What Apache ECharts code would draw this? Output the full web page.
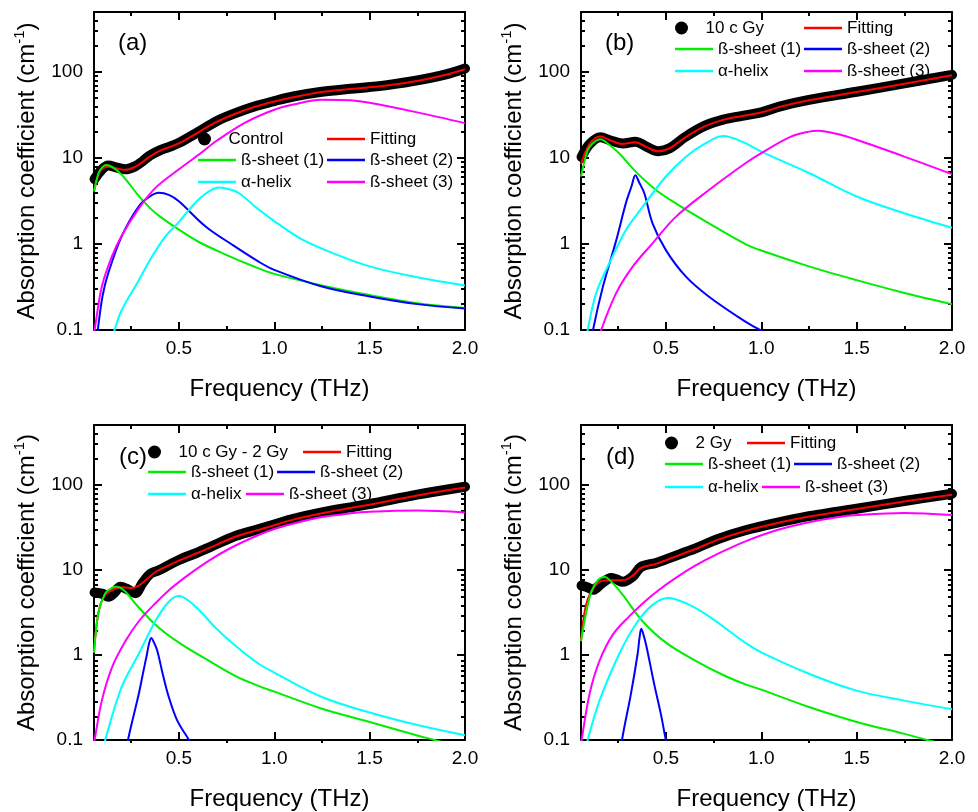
<!DOCTYPE html>
<html>
<head>
<meta charset="utf-8">
<script src="https://cdn.jsdelivr.net/npm/echarts@6/dist/echarts.min.js"></script>
<style>
  html, body { margin: 0; padding: 0; background: #fff; }
  #chart { width: 978px; height: 812px; }
</style>
</head>
<body>
<div id="chart"></div>
<script>
// [frequency (THz), absorption coefficient (cm-1)]

// (a) Control
const ctrlData = [[0.058,5.7],[0.1,7.5],[0.13,8.2],[0.17,7.8],[0.22,7.4],[0.27,8.0],[0.31,9.2],[0.35,10.8],[0.4,12.3],[0.45,13.5],[0.5,15],[0.6,20],[0.7,27],[0.8,33.5],[0.9,40],[1.0,46],[1.1,52],[1.25,59],[1.4,64],[1.5,67],[1.6,71],[1.75,80],[1.9,94],[2.0,110]];
const ctrlFit = [[0.055,4.1],[0.08,6.5],[0.1,7.5],[0.13,7.9],[0.17,7.6],[0.22,7.3],[0.27,7.9],[0.31,9.0],[0.35,10.5],[0.4,12.1],[0.45,13.4],[0.5,14.8],[0.6,19.8],[0.7,26.5],[0.8,33],[0.9,39.5],[1.0,45.5],[1.1,51],[1.25,58.5],[1.4,63.5],[1.5,66.5],[1.6,70.5],[1.75,79],[1.9,93],[2.0,108]];
const ctrlB1 = [[0.055,4.1],[0.08,6.8],[0.1,7.9],[0.12,8.3],[0.15,7.9],[0.2,6.4],[0.25,4.7],[0.29,3.6],[0.35,2.6],[0.4,2.1],[0.5,1.47],[0.6,1.07],[0.73,0.78],[0.9,0.54],[1.0,0.45],[1.25,0.33],[1.5,0.255],[1.75,0.205],[2.0,0.18]];
const ctrlB2 = [[0.068,0.07],[0.075,0.1],[0.1,0.25],[0.13,0.46],[0.2,1.23],[0.29,2.75],[0.35,3.6],[0.395,3.94],[0.45,3.7],[0.5,3.14],[0.64,1.6],[0.78,0.98],[0.92,0.62],[1.0,0.5],[1.25,0.32],[1.5,0.245],[1.75,0.2],[2.0,0.178]];
const ctrlHelix = [[0.155,0.08],[0.163,0.1],[0.2,0.17],[0.29,0.38],[0.36,0.72],[0.43,1.23],[0.5,1.8],[0.553,2.5],[0.623,3.6],[0.71,4.55],[0.77,4.3],[0.816,3.9],[0.92,2.5],[1.0,1.85],[1.14,1.15],[1.31,0.78],[1.5,0.55],[1.75,0.41],[2.0,0.33]];
const ctrlB3 = [[0.05,0.08],[0.058,0.1],[0.096,0.32],[0.149,0.72],[0.2,1.25],[0.29,2.6],[0.377,4.5],[0.5,7.4],[0.605,11],[0.7,16],[0.85,26],[1.0,36.5],[1.1,42],[1.25,47.8],[1.4,47],[1.5,44],[1.75,34],[2.0,25.5]];

// (b) 10 c Gy
const gy10Data = [[0.058,10.3],[0.1,14.5],[0.156,17.5],[0.21,16],[0.274,14.8],[0.34,15.5],[0.4,13.5],[0.46,12],[0.52,13],[0.6,17.5],[0.7,23.5],[0.8,28],[0.9,31],[1.0,34],[1.1,40],[1.25,47.5],[1.5,59],[1.75,74],[2.0,93]];
const gy10Fit = [[0.055,8.5],[0.1,14.5],[0.156,17.8],[0.21,16],[0.27,14.6],[0.34,15.3],[0.4,13.4],[0.46,12],[0.52,13],[0.6,17.3],[0.7,23.2],[0.8,27.8],[0.9,30.8],[1.0,33.8],[1.1,39.5],[1.25,47],[1.5,58.5],[1.75,73],[2.0,92]];
const gy10B1 = [[0.055,6.1],[0.08,10.5],[0.1,13.5],[0.156,16.5],[0.2,14.5],[0.256,11.3],[0.343,6.9],[0.448,4.25],[0.552,2.97],[0.726,1.74],[0.917,1.0],[1.0,0.84],[1.25,0.55],[1.5,0.38],[1.75,0.27],[2.0,0.2]];
const gy10B2 = [[0.11,0.07],[0.118,0.1],[0.17,0.32],[0.24,1.11],[0.29,2.97],[0.32,4.7],[0.34,6.3],[0.36,5.2],[0.387,3.9],[0.43,1.74],[0.5,0.85],[0.604,0.42],[0.726,0.244],[0.917,0.125],[1.0,0.098],[1.05,0.085]];
const gy10Helix = [[0.085,0.08],[0.09,0.1],[0.135,0.27],[0.204,0.6],[0.29,1.45],[0.378,2.7],[0.5,6.1],[0.604,10.3],[0.7,14.5],[0.8,18],[0.9,15.5],[1.0,11.9],[1.25,6.7],[1.5,3.57],[1.75,2.28],[2.0,1.55]];
const gy10B3 = [[0.155,0.08],[0.161,0.1],[0.24,0.27],[0.326,0.545],[0.43,1.02],[0.552,2.07],[0.726,4.25],[0.917,8.7],[1.0,11.4],[1.15,17.5],[1.25,20.3],[1.3,20.8],[1.4,19],[1.5,16.3],[1.75,10.4],[2.0,6.5]];

// (c) 10 c Gy - 2 Gy
const diffData = [[0.058,5.4],[0.1,5.2],[0.131,4.8],[0.16,5.3],[0.193,6.3],[0.23,5.9],[0.27,5.3],[0.31,7],[0.351,9.0],[0.395,9.85],[0.45,11.4],[0.5,13],[0.6,16],[0.66,18.3],[0.8,25],[0.92,30],[1.0,34],[1.1,39.5],[1.25,47],[1.4,54],[1.5,59],[1.75,76],[2.0,94]];
const diffFit = [[0.055,1.06],[0.079,3.2],[0.114,5.05],[0.167,6.0],[0.21,6.2],[0.254,6.1],[0.29,6.5],[0.325,7.5],[0.377,9.4],[0.45,11.3],[0.5,12.8],[0.6,15.8],[0.66,18],[0.8,24.5],[0.92,29.4],[1.0,33.3],[1.1,38.7],[1.25,46],[1.4,53],[1.5,58],[1.75,74.5],[2.0,92]];
const diffB1 = [[0.055,1.06],[0.079,3.2],[0.114,5.3],[0.149,6.1],[0.175,6.3],[0.22,5.5],[0.27,4.04],[0.377,2.26],[0.5,1.39],[0.658,0.85],[0.8,0.56],[0.92,0.43],[1.0,0.37],[1.25,0.233],[1.5,0.163],[1.75,0.113],[1.84,0.1],[2.0,0.08]];
const diffB2 = [[0.225,0.07],[0.233,0.1],[0.29,0.35],[0.31,0.58],[0.333,1.03],[0.345,1.4],[0.356,1.58],[0.366,1.45],[0.386,1.13],[0.415,0.6],[0.447,0.32],[0.491,0.17],[0.553,0.1],[0.57,0.085]];
const diffHelix = [[0.108,0.08],[0.114,0.1],[0.2,0.42],[0.29,1.03],[0.377,2.5],[0.447,4.2],[0.5,4.9],[0.588,3.66],[0.693,2.07],[0.798,1.27],[0.92,0.78],[1.0,0.62],[1.25,0.32],[1.5,0.21],[1.75,0.15],[2.0,0.114]];
const diffB3 = [[0.05,0.08],[0.058,0.1],[0.096,0.29],[0.149,0.71],[0.22,1.45],[0.29,2.48],[0.377,4.04],[0.458,6.0],[0.55,8.7],[0.658,12.8],[0.774,18.1],[0.92,25.7],[1.0,30.1],[1.09,34.4],[1.25,41.5],[1.4,46],[1.5,48],[1.75,49.5],[2.0,47]];

// (d) 2 Gy
const gy2Data = [[0.058,6.5],[0.09,6.2],[0.118,5.8],[0.16,6.8],[0.213,8.0],[0.24,7.7],[0.274,7.2],[0.326,8.3],[0.37,10.8],[0.448,12],[0.5,13.2],[0.6,16],[0.656,17.8],[0.77,22.8],[0.917,29],[1.08,35.5],[1.25,42.5],[1.4,48],[1.5,52],[1.75,64],[2.0,78]];
const gy2Fit = [[0.055,1.45],[0.075,3.3],[0.1,5.05],[0.152,7.2],[0.2,7.5],[0.274,7.5],[0.326,8.5],[0.37,10.5],[0.448,11.7],[0.5,12.9],[0.6,15.7],[0.656,17.5],[0.77,22.4],[0.917,28.5],[1.08,35],[1.25,42],[1.4,47.5],[1.5,51.5],[1.75,63],[2.0,76]];
const gy2B1 = [[0.055,1.45],[0.083,3.2],[0.109,5.5],[0.143,7.5],[0.178,8.2],[0.22,7.0],[0.274,5.05],[0.378,2.48],[0.5,1.39],[0.656,0.85],[0.8,0.58],[0.917,0.45],[1.0,0.39],[1.25,0.244],[1.5,0.163],[1.75,0.118],[1.87,0.1],[2.0,0.085]];
const gy2B2 = [[0.265,0.07],[0.27,0.1],[0.317,0.35],[0.352,1.03],[0.362,1.6],[0.371,2.03],[0.38,1.8],[0.396,1.32],[0.439,0.45],[0.474,0.2],[0.5,0.1],[0.51,0.085]];
const gy2Helix = [[0.085,0.08],[0.09,0.1],[0.152,0.29],[0.256,1.03],[0.343,2.3],[0.43,3.86],[0.51,4.66],[0.604,4.04],[0.726,2.83],[0.917,1.38],[1.0,1.07],[1.25,0.6],[1.5,0.38],[1.75,0.29],[2.0,0.23]];
const gy2B3 = [[0.05,0.08],[0.058,0.1],[0.1,0.35],[0.152,0.85],[0.222,1.73],[0.309,2.85],[0.396,4.35],[0.458,5.66],[0.55,7.95],[0.656,11.2],[0.771,15.3],[0.917,21.5],[1.084,29.2],[1.25,36.1],[1.397,41.3],[1.5,43.8],[1.75,46.4],[2.0,43.8]];

// tick values
const xMajorTicks = [0.5, 1.0, 1.5, 2.0];
const xMinorTicks = [0.25, 0.75, 1.25, 1.75];
const yMajorTicks = [0.1, 1, 10, 100];
const yMinorTicks = [0.2, 0.3, 0.4, 0.5, 0.6, 0.7, 0.8, 0.9, 2, 3, 4, 5, 6, 7, 8, 9, 20, 30, 40, 50, 60, 70, 80, 90, 200, 300, 400];

const componentNames = ['Fitting', 'ß-sheet (1)', 'ß-sheet (2)', 'α-helix', 'ß-sheet (3)'];
const componentColors = ['#ff0000', '#00ee00', '#0000ff', '#00ffff', '#ff00ff'];

const FONT = '"Liberation Sans", Arial, sans-serif';
const X_MIN = 0.055, X_MAX = 2.0, Y_MIN = 0.1, Y_MAX = 500;
const GRID_W = 371, GRID_H = 318;

const panels = [
  { tag: '(a)', tagPos: [118, 31], sample: 'Control', left: 94, top: 12,
    curves: [ctrlData, ctrlFit, ctrlB1, ctrlB2, ctrlHelix, ctrlB3],
    legendPos: [[198, 139], [327, 139], [198, 160], [327, 160], [198, 182], [327, 182]] },
  { tag: '(b)', tagPos: [605, 31], sample: '10 c Gy', left: 581, top: 12,
    curves: [gy10Data, gy10Fit, gy10B1, gy10B2, gy10Helix, gy10B3],
    legendPos: [[675, 28], [804, 28], [675, 49], [804, 49], [675, 71], [804, 71]] },
  { tag: '(c)', tagPos: [119, 445], sample: '10 c Gy - 2 Gy', left: 94, top: 425,
    curves: [diffData, diffFit, diffB1, diffB2, diffHelix, diffB3],
    legendPos: [[148, 452], [303, 452], [148, 472], [277, 472], [148, 494], [246, 494]] },
  { tag: '(d)', tagPos: [606, 445], sample: '2 Gy', left: 581, top: 425,
    curves: [gy2Data, gy2Fit, gy2B1, gy2B2, gy2Helix, gy2B3],
    legendPos: [[665, 443], [747, 443], [665, 464], [794, 464], [665, 487], [762, 487]] },
];

const grid = [], xAxis = [], yAxis = [], series = [], legend = [], title = [];

function tickStyle(len) {
  return { inside: true, length: len, lineStyle: { color: '#000', width: 2 } };
}

function makeX(gridIndex, position, ticks, len, main) {
  return {
    type: 'value', gridIndex: gridIndex, position: position, min: X_MIN, max: X_MAX,
    axisLine: { show: main, onZero: false, lineStyle: { color: '#000', width: 2 } },
    axisTick: Object.assign(tickStyle(len), { customValues: ticks }),
    axisLabel: { show: false },
    splitLine: { show: false },
  };
}

function makeY(gridIndex, position, ticks, len, main) {
  return {
    type: 'log', logBase: 10, gridIndex: gridIndex, position: position, min: Y_MIN, max: Y_MAX,
    axisLine: { show: main, onZero: false, lineStyle: { color: '#000', width: 2 } },
    axisTick: Object.assign(tickStyle(len), { customValues: ticks }),
    axisLabel: { show: false },
    splitLine: { show: false },
    minorTick: { show: false },
  };
}

panels.forEach(function (p, i) {
  const gMain = 2 * i, gMinor = 2 * i + 1;
  grid.push({ left: p.left, top: p.top, width: GRID_W, height: GRID_H });
  grid.push({ left: p.left, top: p.top, width: GRID_W, height: GRID_H });

  const xb = makeX(gMain, 'bottom', xMajorTicks, 8, true);
  xb.axisLabel = {
    customValues: xMajorTicks, formatter: function (v) { return v.toFixed(1); },
    margin: 9, fontSize: 19, color: '#000', fontFamily: FONT,
  };
  xb.name = 'Frequency (THz)';
  xb.nameLocation = 'middle';
  xb.nameGap = 47;
  xb.nameTextStyle = { fontSize: 24, color: '#000', fontFamily: FONT };
  xAxis.push(xb);
  xAxis.push(makeX(gMain, 'top', xMajorTicks, 8, true));
  xAxis.push(makeX(gMinor, 'bottom', xMinorTicks, 4, false));
  xAxis.push(makeX(gMinor, 'top', xMinorTicks, 4, false));

  const yl = makeY(gMain, 'left', yMajorTicks, 8, true);
  yl.axisLabel = {
    customValues: yMajorTicks, formatter: function (v) { return String(v); },
    margin: 11, fontSize: 19, color: '#000', fontFamily: FONT,
  };
  yl.name = '{n|Absorption coefficient (cm}{s|-1}{n|)}';
  yl.nameLocation = 'middle';
  yl.nameRotate = 90;
  yl.nameGap = 52;
  yl.nameTextStyle = {
    color: '#000', fontFamily: FONT,
    rich: {
      n: { fontSize: 24, fontFamily: FONT, color: '#000', lineHeight: 30 },
      s: { fontSize: 15, fontFamily: FONT, color: '#000', verticalAlign: 'top', lineHeight: 30 },
    },
  };
  yAxis.push(yl);
  yAxis.push(makeY(gMain, 'right', yMajorTicks, 8, true));
  yAxis.push(makeY(gMinor, 'left', yMinorTicks, 4, false));
  yAxis.push(makeY(gMinor, 'right', yMinorTicks, 4, false));

  // measured data: dense black dots drawn as a thick round-capped trace
  series.push({
    name: p.sample, type: 'line', xAxisIndex: 4 * i, yAxisIndex: 4 * i,
    data: p.curves[0], showSymbol: false, smooth: 0.35, clip: false,
    color: '#000', lineStyle: { color: '#000', width: 10, cap: 'round', join: 'round' },
  });
  componentNames.forEach(function (name, k) {
    series.push({
      name: name, type: 'line', xAxisIndex: 4 * i, yAxisIndex: 4 * i,
      data: p.curves[k + 1], showSymbol: false, smooth: 0.35,
      color: componentColors[k], lineStyle: { color: componentColors[k], width: 2 },
    });
  });

  const names = [p.sample].concat(componentNames);
  names.forEach(function (name, k) {
    const pos = p.legendPos[k];
    const dot = k === 0;
    legend.push({
      data: [{ name: name, icon: dot ? 'circle' : 'rect' }],
      left: pos[0], top: pos[1] - 10, padding: 0,
      itemWidth: 38, itemHeight: dot ? 13 : 2.5, selectedMode: false,
      textStyle: { fontSize: 17, fontFamily: FONT, color: '#000', lineHeight: 20 },
    });
  });

  title.push({
    text: p.tag, left: p.tagPos[0], top: p.tagPos[1], padding: 0,
    textStyle: { fontSize: 24, fontWeight: 'normal', fontFamily: FONT, color: '#000' },
  });
});

const chart = echarts.init(document.getElementById('chart'));
chart.setOption({
  animation: false,
  backgroundColor: '#fff',
  title: title,
  legend: legend,
  grid: grid,
  xAxis: xAxis,
  yAxis: yAxis,
  series: series,
});
</script>
</body>
</html>
